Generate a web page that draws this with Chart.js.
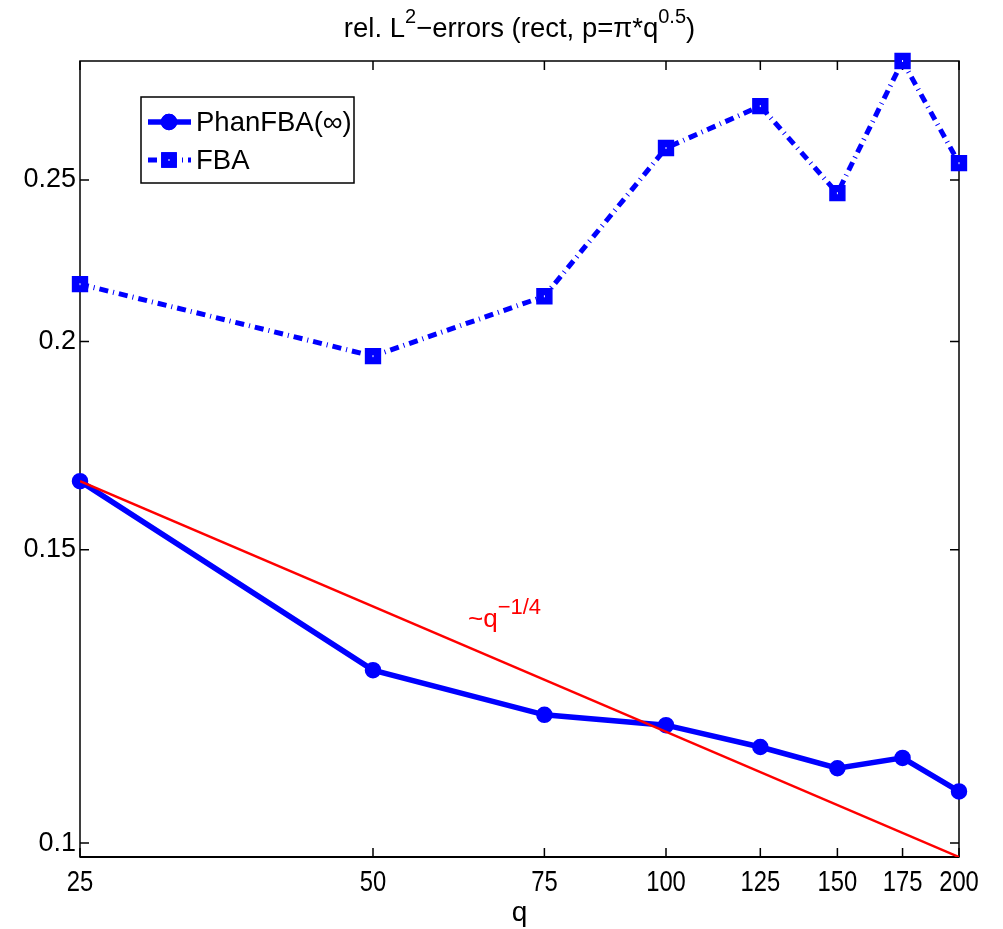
<!DOCTYPE html>
<html>
<head>
<meta charset="utf-8">
<script src="https://cdn.jsdelivr.net/npm/chart.js@4.4.1/dist/chart.umd.min.js"></script>
<style>
  html, body { margin: 0; padding: 0; background: #fff; }
  #wrap { width: 1003px; height: 929px; }
</style>
</head>
<body>
<div id="wrap"><canvas id="errChart" width="1003" height="929"></canvas></div>
<script>
// values (log-log axes)
const qValues = [25, 50, 75, 100, 125, 150, 175, 200];
const phanErrors = [0.1649, 0.1270, 0.1194, 0.1177, 0.1142, 0.1109, 0.1125, 0.1074];
const fbaErrors = [0.2165, 0.1960, 0.2129, 0.2613, 0.2769, 0.2455, 0.2947, 0.2559];
const refQ = [25, 200];
const refErrors = [0.1649, 0.0981];
const xTickValues = [25, 50, 75, 100, 125, 150, 175, 200];
const xTickLabels = ['25', '50', '75', '100', '125', '150', '175', '200'];
const yTickValues = [0.1, 0.15, 0.2, 0.25];
const yTickLabels = ['0.1', '0.15', '0.2', '0.25'];

const FONT = "'Liberation Sans', Arial, Helvetica, sans-serif";
const BLUE = '#0000ff';
const RED = '#ff0000';
const TICK = 9;
const fbaDash = [9, 5, 1, 5];
const refLabelAt = { q: 62.6, v: 0.1348 };

const toPoints = (xs, ys) => xs.map((x, i) => ({ x: x, y: ys[i] }));

// draw a string made of normal and superscript pieces
function richText(ctx, parts, x, y, size, supSize, align) {
    let total = 0;
    parts.forEach(p => {
        ctx.font = (p.sup ? supSize : size) + 'px ' + FONT;
        total += ctx.measureText(p.t).width;
    });
    let cx = align === 'center' ? x - total / 2 : x;
    ctx.textAlign = 'left';
    ctx.textBaseline = 'alphabetic';
    parts.forEach(p => {
        ctx.font = (p.sup ? supSize : size) + 'px ' + FONT;
        ctx.fillText(p.t, cx, p.sup ? y - size * 0.5 : y);
        cx += ctx.measureText(p.t).width;
    });
}

const frameAndTicks = {
    id: 'frameAndTicks',
    beforeDatasetsDraw(chart) {
        const { ctx, chartArea: a, scales: { x, y } } = chart;
        ctx.save();
        ctx.strokeStyle = '#000';
        ctx.lineWidth = 1.5;
        ctx.strokeRect(a.left, a.top, a.right - a.left, a.bottom - a.top);
        ctx.beginPath();
        x.ticks.forEach(t => {
            const px = x.getPixelForValue(t.value);
            ctx.moveTo(px, a.bottom); ctx.lineTo(px, a.bottom - TICK);
            ctx.moveTo(px, a.top); ctx.lineTo(px, a.top + TICK);
        });
        y.ticks.forEach(t => {
            const py = y.getPixelForValue(t.value);
            ctx.moveTo(a.left, py); ctx.lineTo(a.left + TICK, py);
            ctx.moveTo(a.right, py); ctx.lineTo(a.right - TICK, py);
        });
        ctx.stroke();
        // bottom axis is a touch heavier in the original
        ctx.lineWidth = 2;
        ctx.beginPath();
        ctx.moveTo(a.left, a.bottom); ctx.lineTo(a.right, a.bottom);
        ctx.stroke();

        // x tick labels: narrow, tall glyphs like the original
        ctx.fillStyle = '#000';
        ctx.font = '29px ' + FONT;
        ctx.textAlign = 'center';
        ctx.textBaseline = 'alphabetic';
        x.ticks.forEach((t, i) => {
            ctx.save();
            ctx.translate(x.getPixelForValue(t.value), a.bottom + 34);
            ctx.scale(0.82, 1);
            ctx.fillText(xTickLabels[i], 0, 0);
            ctx.restore();
        });
        ctx.restore();
    }
};

const overlays = {
    id: 'overlays',
    afterDatasetsDraw(chart) {
        const { ctx } = chart;
        // tiny white centre in the FBA squares
        const meta = chart.getDatasetMeta(2);
        ctx.save();
        ctx.fillStyle = '#fff';
        meta.data.forEach(pt => ctx.fillRect(pt.x - 0.5, pt.y - 1, 1, 2));
        ctx.restore();
    },
    afterDraw(chart) {
        const { ctx, chartArea: a, scales: { x, y } } = chart;
        const mid = (a.left + a.right) / 2;
        ctx.save();
        ctx.fillStyle = '#000';
        richText(ctx, [
            { t: 'rel. L' }, { t: '2', sup: true },
            { t: '\u2212errors (rect, p=\u03c0*q' }, { t: '0.5', sup: true }, { t: ')' }
        ], mid, 37, 27.5, 20, 'center');

        ctx.font = '28px ' + FONT;
        ctx.textAlign = 'center';
        ctx.textBaseline = 'alphabetic';
        ctx.fillText('q', mid, 921);

        ctx.fillStyle = RED;
        richText(ctx, [{ t: '~q' }, { t: '\u22121/4', sup: true }],
            x.getPixelForValue(refLabelAt.q), y.getPixelForValue(refLabelAt.v), 26, 22, 'left');

        // legend box
        const lx = a.left + 61, ly = a.top + 36, lw = 213, lh = 86;
        ctx.fillStyle = '#fff';
        ctx.fillRect(lx, ly, lw, lh);
        ctx.strokeStyle = '#000';
        ctx.lineWidth = 1.5;
        ctx.strokeRect(lx, ly, lw, lh);

        const rows = [
            { label: 'PhanFBA(\u221e)', y: ly + 25, dash: [], style: 'circle', r: 7.5 },
            { label: 'FBA', y: ly + 63, dash: fbaDash, style: 'rect', r: 10 }
        ];
        rows.forEach(row => {
            ctx.strokeStyle = BLUE;
            ctx.lineWidth = row.style === 'circle' ? 5.5 : 5;
            ctx.setLineDash(row.dash);
            ctx.beginPath();
            ctx.moveTo(lx + 7, row.y);
            ctx.lineTo(lx + 50, row.y);
            ctx.stroke();
            ctx.setLineDash([]);
            ctx.fillStyle = BLUE;
            ctx.lineWidth = 1.5;
            Chart.helpers.drawPoint(ctx, { pointStyle: row.style, radius: row.r, borderWidth: 1.5 }, lx + 28, row.y);
            ctx.fill();
            ctx.stroke();
            if (row.style === 'rect') {
                ctx.fillStyle = '#fff';
                ctx.fillRect(lx + 27.5, row.y - 1, 1, 2);
            }
            ctx.fillStyle = '#000';
            ctx.font = '27.5px ' + FONT;
            ctx.textAlign = 'left';
            ctx.textBaseline = 'middle';
            ctx.fillText(row.label, lx + 55, row.y + 1);
        });
        ctx.restore();
    }
};

new Chart(document.getElementById('errChart'), {
    type: 'line',
    data: {
        datasets: [
            {
                label: '~q^-1/4',
                data: toPoints(refQ, refErrors),
                borderColor: RED,
                borderWidth: 2.5,
                pointRadius: 0,
                order: 0
            },
            {
                label: 'PhanFBA(\u221e)',
                data: toPoints(qValues, phanErrors),
                borderColor: BLUE,
                backgroundColor: BLUE,
                borderWidth: 5.5,
                pointStyle: 'circle',
                pointRadius: 7.5,
                pointBorderWidth: 1.5,
                pointBackgroundColor: BLUE,
                pointBorderColor: BLUE,
                clip: false,
                order: 1
            },
            {
                label: 'FBA',
                data: toPoints(qValues, fbaErrors),
                borderColor: BLUE,
                backgroundColor: BLUE,
                borderWidth: 5,
                borderDash: fbaDash,
                borderCapStyle: 'butt',
                pointStyle: 'rect',
                pointRadius: 10.5,
                pointBorderWidth: 1.5,
                pointBackgroundColor: BLUE,
                pointBorderColor: BLUE,
                clip: false,
                order: 2
            }
        ]
    },
    options: {
        responsive: false,
        animation: false,
        devicePixelRatio: 1,
        layout: { padding: { top: 61, right: 44, left: 0, bottom: 0 } },
        elements: { line: { tension: 0 } },
        plugins: {
            legend: { display: false },
            tooltip: { enabled: false },
            title: { display: false }
        },
        scales: {
            x: {
                type: 'logarithmic',
                min: 25,
                max: 200,
                grid: { display: false, drawTicks: false },
                border: { display: false },
                afterBuildTicks: s => { s.ticks = xTickValues.map(v => ({ value: v })); },
                afterFit: s => { s.height = 72; },
                ticks: { display: false, autoSkip: false }
            },
            y: {
                type: 'logarithmic',
                min: 0.0981,
                max: 0.2947,
                grid: { display: false, drawTicks: false },
                border: { display: false },
                afterBuildTicks: s => { s.ticks = yTickValues.map(v => ({ value: v })); },
                afterFit: s => { s.width = 80; },
                ticks: {
                    autoSkip: false,
                    padding: 4,
                    color: '#000',
                    font: { family: FONT, size: 27 },
                    callback: (v, i) => yTickLabels[i]
                }
            }
        }
    },
    plugins: [frameAndTicks, overlays]
});
</script>
</body>
</html>
